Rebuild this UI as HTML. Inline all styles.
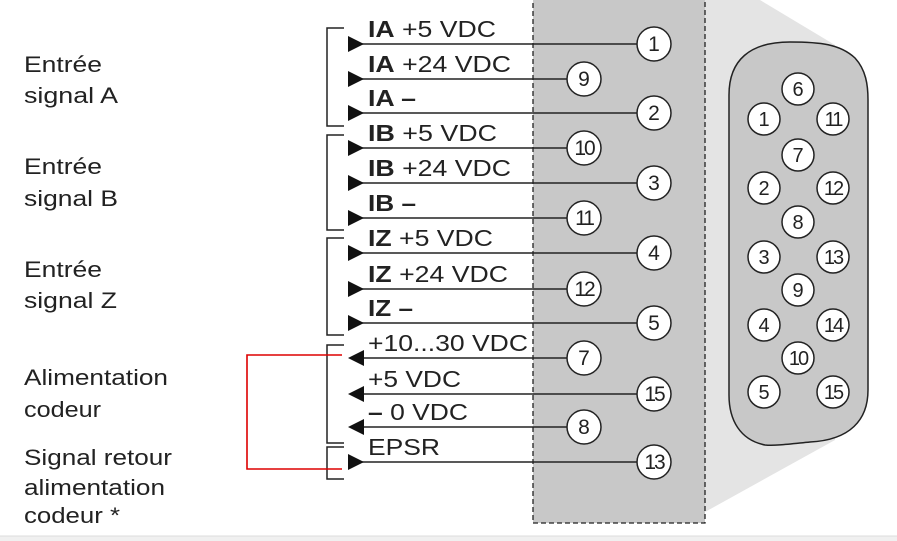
<!DOCTYPE html>
<html><head><meta charset="utf-8"><style>
html,body{margin:0;padding:0;background:#fff;}
svg{display:block;}
text{font-family:"Liberation Sans",sans-serif;fill:#222;}
</style></head><body>
<svg width="897" height="541" viewBox="0 0 897 541" xmlns="http://www.w3.org/2000/svg">
<rect x="0" y="536" width="897" height="5" fill="#f0f0f0"/>
<line x1="0" y1="536" x2="897" y2="536" stroke="#ddd" stroke-width="1"/>
<polygon points="705,0 760,0 835,45 835,440 705,512" fill="#e4e4e4"/>
<rect x="533" y="-2" width="172" height="525" fill="#c8c8c8" stroke="#222" stroke-width="1.3" stroke-dasharray="5,3"/>
<path d="M729,95 C729,60 750,42 790,42 C820,42 840,44 855,58 C866,70 868,85 868,100 L868,390 C868,420 850,440 810,442 C790,444 775,446 765,445 C740,440 729,420 729,395 Z" fill="#c8c8c8" stroke="#222" stroke-width="1.5"/>
<g stroke="#222" stroke-width="1.5" fill="#fff">
<circle cx="798" cy="89" r="16"/><circle cx="764" cy="119" r="16"/><circle cx="833" cy="119" r="16"/>
<circle cx="798" cy="155" r="16"/><circle cx="764" cy="188" r="16"/><circle cx="833" cy="188" r="16"/>
<circle cx="798" cy="222" r="16"/><circle cx="764" cy="257" r="16"/><circle cx="833" cy="257" r="16"/>
<circle cx="798" cy="290" r="16"/><circle cx="764" cy="325" r="16"/><circle cx="833" cy="325" r="16"/>
<circle cx="798" cy="358" r="16"/><circle cx="764" cy="392" r="16"/><circle cx="833" cy="392" r="16"/>
</g>
<g font-size="20" text-anchor="middle">
<text x="798" y="96">6</text><text x="764" y="126">1</text><text x="833" y="126" letter-spacing="-2">11</text>
<text x="798" y="162">7</text><text x="764" y="195">2</text><text x="833" y="195" letter-spacing="-2">12</text>
<text x="798" y="229">8</text><text x="764" y="264">3</text><text x="833" y="264" letter-spacing="-2">13</text>
<text x="798" y="297">9</text><text x="764" y="332">4</text><text x="833" y="332" letter-spacing="-2">14</text>
<text x="798" y="365" letter-spacing="-2">10</text><text x="764" y="399">5</text><text x="833" y="399" letter-spacing="-2">15</text>
</g>
<g stroke="#222" stroke-width="1.5">
<line x1="350" y1="44" x2="637" y2="44"/>
<line x1="350" y1="79" x2="567" y2="79"/>
<line x1="350" y1="113" x2="637" y2="113"/>
<line x1="350" y1="148" x2="567" y2="148"/>
<line x1="350" y1="183" x2="637" y2="183"/>
<line x1="350" y1="218" x2="567" y2="218"/>
<line x1="350" y1="253" x2="637" y2="253"/>
<line x1="350" y1="289" x2="567" y2="289"/>
<line x1="350" y1="323" x2="637" y2="323"/>
<line x1="350" y1="358" x2="567" y2="358"/>
<line x1="350" y1="394" x2="637" y2="394"/>
<line x1="350" y1="427" x2="567" y2="427"/>
<line x1="350" y1="462" x2="637" y2="462"/>
</g>
<g fill="#111">
<polygon points="348,36 364,44 348,52"/><polygon points="348,71 364,79 348,87"/><polygon points="348,105 364,113 348,121"/>
<polygon points="348,140 364,148 348,156"/><polygon points="348,175 364,183 348,191"/><polygon points="348,210 364,218 348,226"/>
<polygon points="348,245 364,253 348,261"/><polygon points="348,281 364,289 348,297"/><polygon points="348,315 364,323 348,331"/>
<polygon points="364,350 348,358 364,366"/><polygon points="364,386 348,394 364,402"/><polygon points="364,419 348,427 364,435"/>
<polygon points="348,454 364,462 348,470"/>
</g>
<g stroke="#222" stroke-width="1.5" fill="#fff">
<circle cx="654" cy="44" r="17"/><circle cx="584" cy="79" r="17"/><circle cx="654" cy="113" r="17"/>
<circle cx="584" cy="148" r="17"/><circle cx="654" cy="183" r="17"/><circle cx="584" cy="218" r="17"/>
<circle cx="654" cy="253" r="17"/><circle cx="584" cy="289" r="17"/><circle cx="654" cy="323" r="17"/>
<circle cx="584" cy="358" r="17"/><circle cx="654" cy="394" r="17"/><circle cx="584" cy="427" r="17"/>
<circle cx="654" cy="462" r="17"/>
</g>
<g font-size="21" text-anchor="middle">
<text x="654" y="51">1</text><text x="584" y="86">9</text><text x="654" y="120">2</text>
<text x="584" y="155" letter-spacing="-2">10</text><text x="654" y="190">3</text><text x="584" y="225" letter-spacing="-2">11</text>
<text x="654" y="260">4</text><text x="584" y="296" letter-spacing="-2">12</text><text x="654" y="330">5</text>
<text x="584" y="365">7</text><text x="654" y="401" letter-spacing="-2">15</text><text x="584" y="434">8</text>
<text x="654" y="469" letter-spacing="-2">13</text>
</g>
<g font-size="23">
<text x="368" y="37" textLength="128" lengthAdjust="spacingAndGlyphs"><tspan font-weight="bold">IA</tspan> +5 VDC</text>
<text x="368" y="72" textLength="143" lengthAdjust="spacingAndGlyphs"><tspan font-weight="bold">IA</tspan> +24 VDC</text>
<text x="368" y="106" textLength="48" lengthAdjust="spacingAndGlyphs" font-weight="bold">IA –</text>
<text x="368" y="141" textLength="129" lengthAdjust="spacingAndGlyphs"><tspan font-weight="bold">IB</tspan> +5 VDC</text>
<text x="368" y="176" textLength="143" lengthAdjust="spacingAndGlyphs"><tspan font-weight="bold">IB</tspan> +24 VDC</text>
<text x="368" y="211" textLength="48" lengthAdjust="spacingAndGlyphs" font-weight="bold">IB –</text>
<text x="368" y="246" textLength="125" lengthAdjust="spacingAndGlyphs"><tspan font-weight="bold">IZ</tspan> +5 VDC</text>
<text x="368" y="282" textLength="140" lengthAdjust="spacingAndGlyphs"><tspan font-weight="bold">IZ</tspan> +24 VDC</text>
<text x="368" y="316" textLength="45" lengthAdjust="spacingAndGlyphs" font-weight="bold">IZ –</text>
<text x="368" y="351" textLength="160" lengthAdjust="spacingAndGlyphs">+10...30 VDC</text>
<text x="368" y="387" textLength="93" lengthAdjust="spacingAndGlyphs">+5 VDC</text>
<text x="368" y="420" textLength="100" lengthAdjust="spacingAndGlyphs"><tspan font-weight="bold">–</tspan> 0 VDC</text>
<text x="368" y="455" textLength="72" lengthAdjust="spacingAndGlyphs">EPSR</text>
</g>
<g stroke="#222" stroke-width="1.5" fill="none">
<polyline points="344,28 327,28 327,126 344,126"/>
<polyline points="344,135 327,135 327,230 344,230"/>
<polyline points="344,238 327,238 327,335 344,335"/>
<polyline points="344,345 327,345 327,443 344,443"/>
<polyline points="344,447 327,447 327,479 344,479"/>
</g>
<polyline points="342,355 247,355 247,469 342,469" fill="none" stroke="#d00" stroke-width="1.6"/>
<g font-size="22">
<text x="24" y="72" textLength="78" lengthAdjust="spacingAndGlyphs">Entrée</text>
<text x="24" y="103" textLength="94" lengthAdjust="spacingAndGlyphs">signal A</text>
<text x="24" y="174" textLength="78" lengthAdjust="spacingAndGlyphs">Entrée</text>
<text x="24" y="206" textLength="94" lengthAdjust="spacingAndGlyphs">signal B</text>
<text x="24" y="277" textLength="78" lengthAdjust="spacingAndGlyphs">Entrée</text>
<text x="24" y="308" textLength="93" lengthAdjust="spacingAndGlyphs">signal Z</text>
<text x="24" y="385" textLength="144" lengthAdjust="spacingAndGlyphs">Alimentation</text>
<text x="24" y="417" textLength="77" lengthAdjust="spacingAndGlyphs">codeur</text>
<text x="24" y="465" textLength="148" lengthAdjust="spacingAndGlyphs">Signal retour</text>
<text x="24" y="495" textLength="141" lengthAdjust="spacingAndGlyphs">alimentation</text>
<text x="24" y="523" textLength="96" lengthAdjust="spacingAndGlyphs">codeur *</text>
</g>
</svg>
</body></html>
